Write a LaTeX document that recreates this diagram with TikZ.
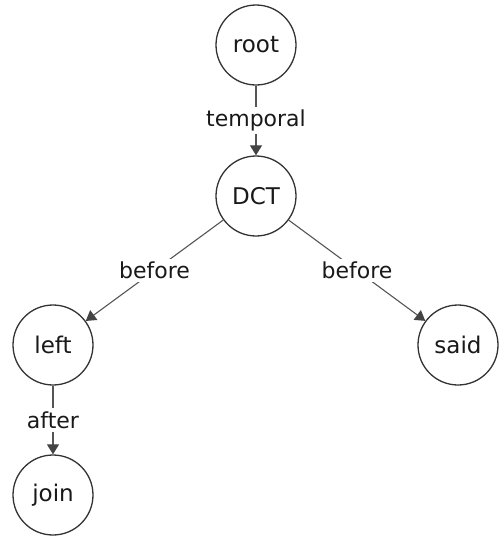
\documentclass[tikz,border=0pt]{standalone}
\usepackage{fontspec}
\setmainfont{DejaVu Sans}
\usetikzlibrary{arrows.meta}
\definecolor{edgecol}{HTML}{555555}
\definecolor{tipcol}{HTML}{444444}
\definecolor{ringcol}{HTML}{333333}
\tikzset{
  vert/.style={circle,draw=ringcol,line width=1.3pt,minimum size=80pt,inner sep=0pt,fill=white,font=\fontsize{23}{27}\selectfont,text=black!90},
  rel/.style={draw=edgecol,line width=1.1pt,-{Triangle[length=10pt,width=12pt,color=tipcol]}},
  lbl/.style={fill=white,inner sep=3pt,font=\fontsize{22}{26}\selectfont,text=black!90}
}
\begin{document}
\begin{tikzpicture}[x=1pt,y=-1pt]
\useasboundingbox (0,0) rectangle (501,536);
\node[vert] (root) at (256,45) {root};
\node[vert] (dct) at (256,196) {DCT};
\node[vert] (left) at (53,345) {left};
\node[vert] (said) at (458,345) {said};
\node[vert] (join) at (53,495) {join};
\draw[rel] (root) -- node[lbl] {temporal} (dct);
\draw[rel] (dct) -- node[lbl] {before} (left);
\draw[rel] (dct) -- node[lbl] {before} (said);
\draw[rel] (left) -- node[lbl] {after} (join);
\end{tikzpicture}
\end{document}
